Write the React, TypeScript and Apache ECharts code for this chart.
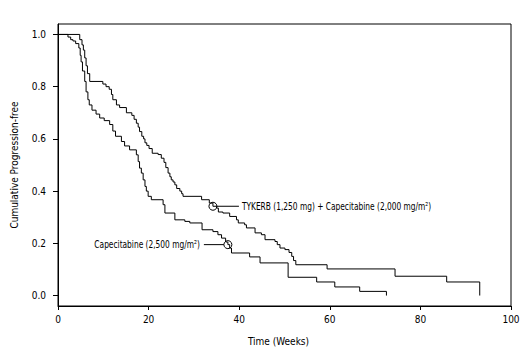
import React, { useEffect, useRef } from "react";
import * as echarts from "echarts";

// Kaplan-Meier step data (time in weeks, cumulative progression-free)
const tykerbTime = [0, 4.8, 5.3, 5.6, 5.9, 6.2, 6.5, 7.0, 9.9, 10.6, 11.3, 11.8, 12.1, 12.9, 13.6, 15.1, 16.3, 16.8, 17.3, 17.7, 18.0, 18.5, 18.9, 19.2, 19.6, 20.1, 20.8, 22.1, 22.8, 23.4, 23.8, 24.3, 24.7, 25.0, 25.4, 25.8, 26.2, 26.9, 27.3, 27.6, 31.7, 33.4, 34.2, 35.0, 35.4, 36.4, 37.9, 39.4, 39.8, 41.2, 41.6, 43.5, 44.9, 45.7, 47.9, 48.4, 49.0, 50.1, 51.0, 51.6, 52.0, 52.5, 59.4, 74.4, 85.8, 93.1];
const tykerbSurv = [1.0, 0.98, 0.96, 0.94, 0.91, 0.88, 0.85, 0.82, 0.81, 0.8, 0.79, 0.77, 0.75, 0.73, 0.72, 0.7, 0.69, 0.675, 0.66, 0.645, 0.628, 0.61, 0.6, 0.585, 0.575, 0.563, 0.545, 0.54, 0.526, 0.51, 0.49, 0.469, 0.455, 0.443, 0.435, 0.424, 0.41, 0.4, 0.39, 0.38, 0.367, 0.354, 0.342, 0.335, 0.32, 0.316, 0.303, 0.29, 0.278, 0.271, 0.259, 0.24, 0.233, 0.214, 0.207, 0.195, 0.182, 0.176, 0.165, 0.15, 0.134, 0.118, 0.102, 0.074, 0.052, 0.0];

const capeTime = [0, 2.2, 2.8, 3.3, 3.9, 4.6, 4.9, 5.1, 5.4, 5.9, 6.2, 6.6, 6.9, 7.5, 8.4, 9.2, 10.2, 11.4, 12.1, 12.7, 14.0, 14.7, 15.8, 17.3, 17.7, 18.0, 18.4, 18.8, 19.2, 19.5, 19.9, 20.6, 23.2, 23.6, 25.8, 28.0, 29.1, 31.8, 34.2, 35.3, 36.1, 37.0, 37.5, 37.9, 38.3, 42.3, 44.6, 50.8, 57.1, 61.1, 66.6, 72.5];
const capeSurv = [1.0, 0.99, 0.98, 0.975, 0.965, 0.948, 0.92, 0.895, 0.86, 0.82, 0.78, 0.75, 0.73, 0.71, 0.695, 0.68, 0.67, 0.655, 0.63, 0.61, 0.59, 0.573, 0.558, 0.539, 0.513, 0.488, 0.469, 0.443, 0.418, 0.4, 0.38, 0.367, 0.348, 0.316, 0.29, 0.284, 0.278, 0.252, 0.245, 0.233, 0.22, 0.205, 0.195, 0.182, 0.163, 0.148, 0.125, 0.07, 0.052, 0.033, 0.016, 0.0];

const xTicks = [0, 20, 40, 60, 80, 100];
const yTicks = [0, 0.2, 0.4, 0.6, 0.8, 1.0];

// annotation anchors (data coordinates) and texts
const annotations = [
  { x: 34.2, y: 0.342, side: "right", text: "TYKERB (1,250 mg) + Capecitabine (2,000 mg/m²)" },
  { x: 37.5, y: 0.195, side: "left", text: "Capecitabine (2,500 mg/m²)" },
];

const FONT = "'DejaVu Sans Condensed', 'Liberation Sans', sans-serif";

export default function App() {
  const ref = useRef<HTMLDivElement>(null);
  useEffect(() => {
    if (!ref.current) return;
    const chart = echarts.init(ref.current, null, { renderer: "svg" });
    const lineStyle = { color: "#000", width: 1 };
    chart.setOption({
      animation: false,
      backgroundColor: "#fff",
      textStyle: { fontFamily: FONT },
      grid: {
        left: 58,
        right: 16,
        top: 24,
        bottom: 54,
        show: true,
        borderColor: "#000",
        borderWidth: 1,
        backgroundColor: "transparent",
      },
      xAxis: {
        type: "value",
        min: 0,
        max: 100,
        interval: 20,
        name: "Time (Weeks)",
        nameLocation: "middle",
        nameGap: 30,
        nameTextStyle: { fontFamily: FONT, fontSize: 10, color: "#000", padding: [0, 12, 0, 0] },
        axisLine: { show: true, onZero: false, lineStyle: { color: "#000", width: 1 } },
        axisTick: { show: true, length: 4, lineStyle: { color: "#000" }, customValues: xTicks },
        axisLabel: { fontFamily: FONT, fontSize: 10, color: "#000", margin: 8, customValues: xTicks },
        splitLine: { show: false },
      },
      yAxis: {
        type: "value",
        min: -0.04,
        max: 1.04,
        name: "Cumulative Progression-free",
        nameLocation: "middle",
        nameGap: 39,
        nameTextStyle: { fontFamily: FONT, fontSize: 10, color: "#000" },
        axisLine: { show: true, onZero: false, lineStyle: { color: "#000", width: 1 } },
        axisTick: { show: true, length: 5, lineStyle: { color: "#000" }, customValues: yTicks },
        axisLabel: {
          fontFamily: FONT,
          fontSize: 10,
          color: "#000",
          margin: 12,
          customValues: yTicks,
          formatter: (v: number) => v.toFixed(1),
        },
        splitLine: { show: false },
      },
      series: [
        {
          name: "TYKERB + Capecitabine",
          type: "line",
          step: "end",
          showSymbol: false,
          lineStyle,
          data: tykerbTime.map((t, i) => [t, tykerbSurv[i]]),
        },
        {
          name: "Capecitabine",
          type: "line",
          step: "end",
          showSymbol: false,
          lineStyle,
          data: capeTime.map((t, i) => [t, capeSurv[i]]),
        },
      ],
    });

    const graphics: any[] = [];
    annotations.forEach((a) => {
      const p = chart.convertToPixel({ gridIndex: 0 }, [a.x, a.y]) as number[];
      const [px, py] = p;
      const r = 4;
      graphics.push({
        type: "circle",
        shape: { cx: px, cy: py, r },
        style: { fill: "none", stroke: "#000", lineWidth: 1 },
        z: 10,
      });
      const right = a.side === "right";
      graphics.push({
        type: "line",
        shape: right
          ? { x1: px + r, y1: py, x2: px + 26, y2: py }
          : { x1: px - r, y1: py, x2: px - 24, y2: py },
        style: { stroke: "#000", lineWidth: 1 },
        z: 10,
      });
      graphics.push({
        type: "text",
        x: right ? px + 29 : px - 28,
        y: py,
        scaleX: 0.83,
        style: {
          text: a.text,
          fontFamily: FONT,
          fontSize: 10,
          fill: "#000",
          align: right ? "left" : "right",
          verticalAlign: "middle",
        },
        z: 10,
      });
    });
    chart.setOption({ graphic: graphics });

    return () => chart.dispose();
  }, []);
  return (
    <div
      ref={ref}
      style={{ position: "absolute", left: 0, top: 0, width: 527, height: 360, background: "#fff" }}
    />
  );
}
